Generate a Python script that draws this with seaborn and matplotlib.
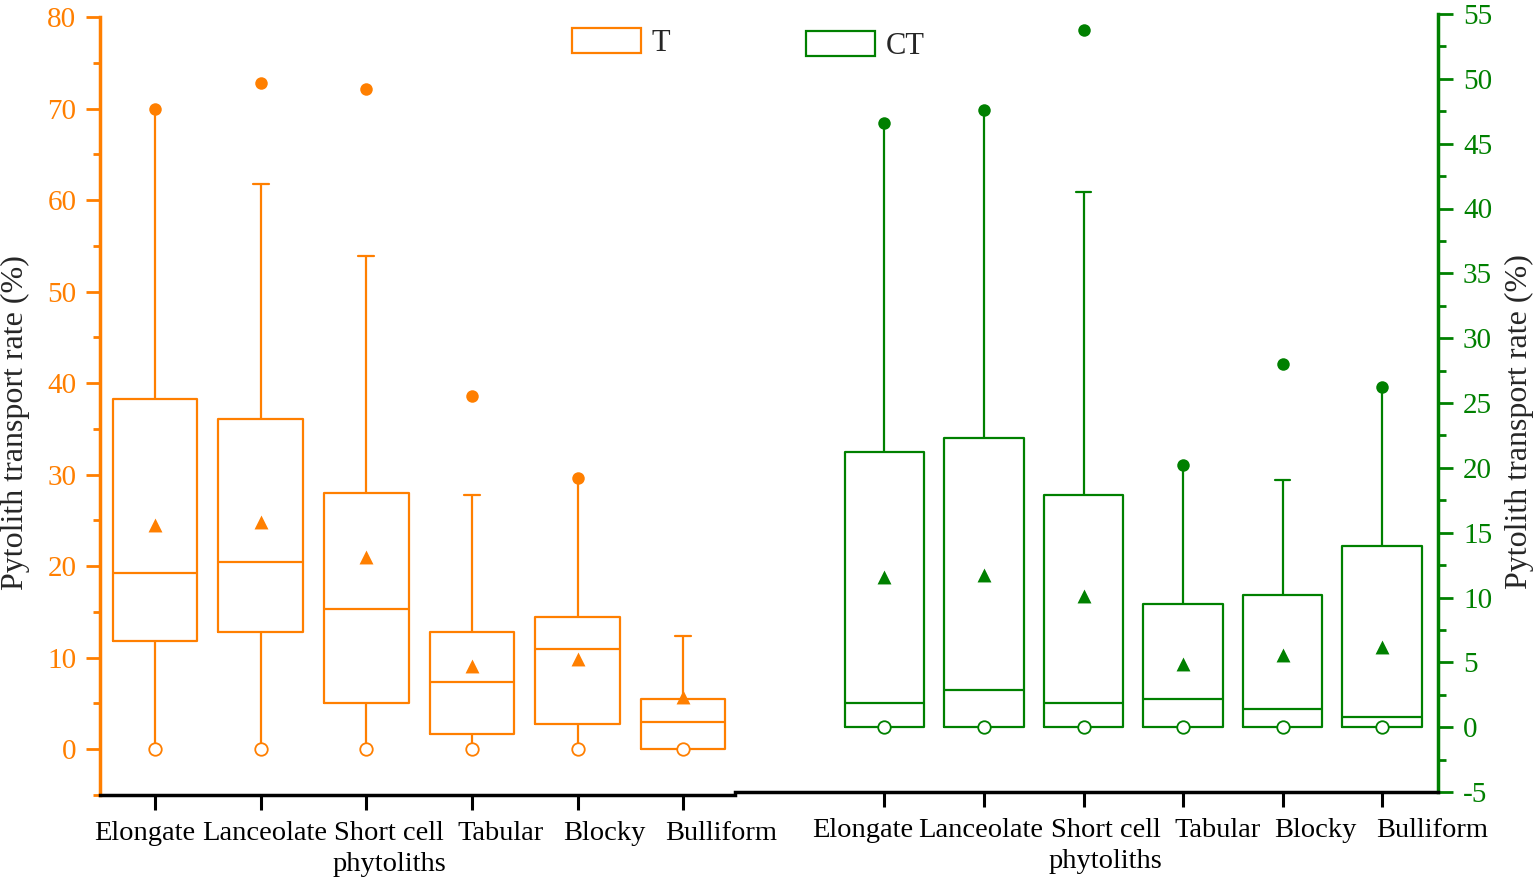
import numpy as np
import pandas as pd
import matplotlib
matplotlib.use("Agg")
import matplotlib.pyplot as plt
from matplotlib.patches import Patch
from matplotlib.ticker import MultipleLocator
from matplotlib.transforms import ScaledTranslation
import seaborn as sns

# phytolith shape classes (x categories)
shapes = ["Elongate", "Lanceolate", "Short cell\nphytoliths", "Tabular", "Blocky", "Bulliform"]

# T series (left axis) : whisker low, Q1, median, Q3, whisker high, mean, max, min
t_low  = [0.0, 0.0, 0.0, 0.0, 0.0, 0.0]
t_q1   = [11.8, 12.8, 5.1, 1.7, 2.8, 0.0]
t_med  = [19.2, 20.5, 15.3, 7.4, 11.0, 3.0]
t_q3   = [38.3, 36.1, 28.0, 12.8, 14.4, 5.5]
t_high = [70.0, 61.8, 53.9, 27.8, 29.6, 12.4]
t_mean = [24.5, 24.8, 21.0, 9.1, 9.9, 5.7]
t_max  = [70.0, 72.8, 72.1, 38.6, 29.6, np.nan]
t_min  = [0.0, 0.0, 0.0, 0.0, 0.0, 0.0]

# CT series (right axis)
ct_low  = [0.0, 0.0, 0.0, 0.0, 0.0, 0.0]
ct_q1   = [0.0, 0.0, 0.0, 0.0, 0.0, 0.0]
ct_med  = [1.9, 2.9, 1.9, 2.2, 1.4, 0.8]
ct_q3   = [21.2, 22.3, 17.9, 9.5, 10.2, 14.0]
ct_high = [46.6, 47.6, 41.3, 20.2, 19.1, 26.2]
ct_mean = [11.6, 11.7, 10.1, 4.9, 5.6, 6.2]
ct_max  = [46.6, 47.6, 53.8, 20.2, 28.0, 26.2]
ct_min  = [0.0, 0.0, 0.0, 0.0, 0.0, 0.0]

ORANGE = "#FF7F00"
GREEN = "#008000"
W, H = 1535, 885
CAPW = 0.15


def five_numbers(low, q1, med, q3, high):
    # 5 values per class -> with whis=(0,100) the box stats come out exactly
    rows = []
    for i, s in enumerate(shapes):
        for v in (low[i], q1[i], med[i], q3[i], high[i]):
            rows.append({"shape": s, "value": v})
    return pd.DataFrame(rows)


def draw(ax, df, mean, vmax, vmin, color):
    sns.boxplot(data=df, x="shape", y="value", order=shapes, whis=(0, 100), width=0.8,
                fill=False, color=color, linecolor=color, saturation=1, linewidth=1.6,
                capwidths=CAPW, ax=ax)
    # caps hidden where the whisker ends on a max / min marker
    for ln in ax.lines:
        xd, yd = np.asarray(ln.get_xdata(), float), np.asarray(ln.get_ydata(), float)
        if len(xd) == 2 and yd[0] == yd[1] and abs(xd[1] - xd[0]) < CAPW + 0.01:
            pos = int(round(xd.mean()))
            if np.isclose(yd[0], vmax[pos]) or np.isclose(yd[0], vmin[pos]):
                ln.set_visible(False)
    sns.stripplot(x=shapes, y=mean, order=shapes, jitter=False, marker="^", color=color,
                  edgecolor=color, linewidth=0, size=10, zorder=5, ax=ax)
    sns.stripplot(x=shapes, y=vmax, order=shapes, jitter=False, marker="o", color=color,
                  edgecolor=color, linewidth=0, size=9, zorder=5, ax=ax)
    sns.stripplot(x=shapes, y=vmin, order=shapes, jitter=False, marker="o", color="white",
                  edgecolor=color, linewidth=1.3, size=9, zorder=6, ax=ax)
    ax.set_xlabel("")
    ax.tick_params(axis="x", colors="black", length=11, width=2.2, pad=8, labelsize=20.5)
    ax.spines["bottom"].set_color("black")
    ax.spines["bottom"].set_linewidth(2.5)
    ax.spines["top"].set_visible(False)


def shift_labels(ax, shifts):
    for lab, dx in zip(ax.get_xticklabels(), shifts):
        lab.set_linespacing(1.3)
        lab.set_transform(lab.get_transform() + ScaledTranslation(dx / 100, 0, fig.dpi_scale_trans))


sns.set_style("ticks")
plt.rcParams["font.family"] = ["Liberation Serif", "DejaVu Serif"]
plt.rcParams["axes.unicode_minus"] = False

fig = plt.figure(figsize=(W / 100, H / 100), dpi=100)

ax1 = fig.add_axes([100 / W, 1 - 795 / H, (735 - 100) / W, (795 - 17) / H])
ax2 = fig.add_axes([735 / W, 1 - 792 / H, (1438 - 735) / W, (792 - 14) / H])
ax2.patch.set_alpha(0)

draw(ax1, five_numbers(t_low, t_q1, t_med, t_q3, t_high), t_mean, t_max, t_min, ORANGE)
draw(ax2, five_numbers(ct_low, ct_q1, ct_med, ct_q3, ct_high), ct_mean, ct_max, ct_min, GREEN)

# left axis (T)
ax1.set_ylim(-5, 80)
ax1.set_xlim(-0.52, 5.49)
ax1.yaxis.set_major_locator(MultipleLocator(10))
ax1.yaxis.set_minor_locator(MultipleLocator(5))
ax1.set_yticks(range(0, 81, 10))
ax1.tick_params(axis="y", which="major", colors=ORANGE, length=10, width=2, pad=7, labelsize=21)
ax1.tick_params(axis="y", which="minor", colors=ORANGE, length=5, width=2)
ax1.spines["left"].set_color(ORANGE)
ax1.spines["left"].set_linewidth(2.5)
ax1.spines["right"].set_visible(False)
ax1.set_ylabel("Pytolith transport rate (%)", fontsize=23)
ax1.yaxis.set_label_coords(-0.11, 0.479)

# right axis (CT)
ax2.set_ylim(-5, 55)
ax2.set_xlim(-1.5, 5.56)
ax2.yaxis.tick_right()
ax2.yaxis.set_label_position("right")
ax2.yaxis.set_major_locator(MultipleLocator(5))
ax2.yaxis.set_minor_locator(MultipleLocator(2.5))
ax2.tick_params(axis="y", which="major", colors=GREEN, length=11, width=2, pad=7, labelsize=21)
ax2.tick_params(axis="y", which="minor", colors=GREEN, length=6, width=2)
ax2.spines["right"].set_visible(True)
ax2.spines["right"].set_color(GREEN)
ax2.spines["right"].set_linewidth(2.5)
ax2.spines["left"].set_visible(False)
ax2.set_ylabel("Pytolith transport rate (%)", fontsize=23, rotation=90)
ax2.yaxis.set_label_coords(1.095, 0.476)

# category labels sit a little off their ticks in the original
shift_labels(ax1, [-10, 4, 23, 29, 27, 38])
shift_labels(ax2, [-22, -3, 22, 34, 33, 50])

# legends
leg_kw = dict(frameon=False, fontsize=22, handlelength=2.25, handleheight=0.9,
              handletextpad=0.35, borderpad=0, borderaxespad=0, loc="center left")
fig.legend(handles=[Patch(facecolor="white", edgecolor=ORANGE, linewidth=1.6, label="T")],
           bbox_to_anchor=(572 / W, 1 - 43 / H), **leg_kw)
fig.legend(handles=[Patch(facecolor="white", edgecolor=GREEN, linewidth=1.6, label="CT")],
           bbox_to_anchor=(806 / W, 1 - 46 / H), **leg_kw)

fig.savefig("out.png", dpi=100)
